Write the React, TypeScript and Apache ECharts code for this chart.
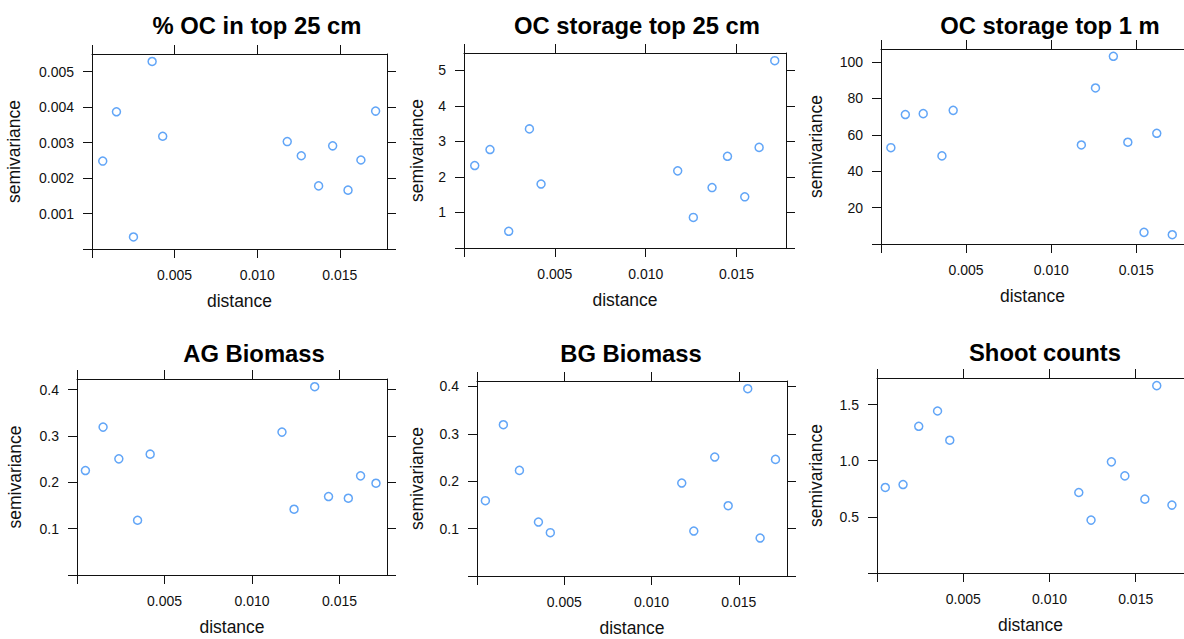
import React, { useEffect, useRef } from "react";
import * as echarts from "echarts";

// ---- Data ----
const ocPctDist = [0.00065, 0.00148, 0.00251, 0.00364, 0.00428, 0.01182, 0.01267, 0.01372, 0.01457, 0.0155, 0.01628, 0.01717];
const ocPctSemivar = [0.00248, 0.00387, 0.00034, 0.00529, 0.00318, 0.00303, 0.00263, 0.00178, 0.00291, 0.00166, 0.00251, 0.00389];

const ocStor25Dist = [0.00059, 0.00143, 0.00246, 0.0036, 0.00424, 0.01176, 0.01262, 0.01365, 0.0145, 0.01545, 0.01624, 0.0171];
const ocStor25Semivar = [2.32, 2.77, 0.47, 3.35, 1.8, 2.17, 0.86, 1.7, 2.58, 1.44, 2.83, 5.27];

const ocStor1mDist = [0.00058, 0.00143, 0.00248, 0.00358, 0.00424, 0.01177, 0.0126, 0.01365, 0.0145, 0.01545, 0.0162, 0.01711];
const ocStor1mSemivar = [52.9, 71.1, 71.6, 48.4, 73.4, 54.4, 85.7, 103.1, 55.9, 6.4, 60.8, 5.1];

const agDist = [0.00048, 0.00149, 0.00239, 0.00346, 0.00418, 0.01171, 0.0124, 0.01358, 0.01437, 0.0155, 0.0162, 0.01708];
const agSemivar = [0.2256, 0.3193, 0.2508, 0.1182, 0.2609, 0.3085, 0.142, 0.4065, 0.1694, 0.1658, 0.2141, 0.1982];

const bgDist = [0.00048, 0.00151, 0.00243, 0.00352, 0.0042, 0.01173, 0.01242, 0.01362, 0.01439, 0.01551, 0.01622, 0.0171];
const bgSemivar = [0.1589, 0.3192, 0.2228, 0.1139, 0.0914, 0.1961, 0.0949, 0.251, 0.1483, 0.3951, 0.0801, 0.246];

const shootDist = [0.00048, 0.00151, 0.00242, 0.00351, 0.00422, 0.0117, 0.01241, 0.01359, 0.01437, 0.01553, 0.01622, 0.0171];
const shootSemivar = [0.762, 0.788, 1.307, 1.443, 1.183, 0.717, 0.471, 0.99, 0.865, 0.658, 1.669, 0.605];

const titles = ["% OC in top 25 cm", "OC storage top 25 cm", "OC storage top 1 m", "AG Biomass", "BG Biomass", "Shoot counts"];

const xTicks = [0, 0.005, 0.01, 0.015];
const xTickLabels = ["", "0.005", "0.010", "0.015"];

const yTicks1 = [0, 0.001, 0.002, 0.003, 0.004, 0.005];
const yTickLabels1 = ["", "0.001", "0.002", "0.003", "0.004", "0.005"];
const yTicks2 = [0, 1, 2, 3, 4, 5];
const yTickLabels2 = ["", "1", "2", "3", "4", "5"];
const yTicks3 = [0, 20, 40, 60, 80, 100];
const yTickLabels3 = ["", "20", "40", "60", "80", "100"];
const yTicks4 = [0, 0.1, 0.2, 0.3, 0.4];
const yTickLabels4 = ["", "0.1", "0.2", "0.3", "0.4"];
const yTicks5 = [0, 0.1, 0.2, 0.3, 0.4];
const yTickLabels5 = ["", "0.1", "0.2", "0.3", "0.4"];
const yTicks6 = [0, 0.5, 1.0, 1.5];
const yTickLabels6 = ["", "0.5", "1.0", "1.5"];

const FONT = "'Liberation Sans', Arial, Helvetica, sans-serif";

export default function App() {
  const ref = useRef<HTMLDivElement>(null);

  useEffect(() => {
    if (!ref.current) return;
    const chart = echarts.init(ref.current, null, { renderer: "svg" });

    const panels = [
      { dist: ocPctDist, sv: ocPctSemivar, yTicks: yTicks1, yLabels: yTickLabels1, yInterval: 0.001, yMax: 0.0055, xMax: 0.01786,
        grid: { left: 92, top: 54, width: 295, height: 195 }, yNameGap: 69, title: { x: 252, y: 8 } },
      { dist: ocStor25Dist, sv: ocStor25Semivar, yTicks: yTicks2, yLabels: yTickLabels2, yInterval: 1, yMax: 5.486, xMax: 0.01772,
        grid: { left: 464, top: 53, width: 322, height: 195 }, yNameGap: 38, title: { x: 632, y: 8 } },
      { dist: ocStor1mDist, sv: ocStor1mSemivar, yTicks: yTicks3, yLabels: yTickLabels3, yInterval: 20, yMax: 107.1, xMax: 0.0178,
        grid: { left: 881, top: 49, width: 307, height: 195 }, yNameGap: 56, title: { x: 1045, y: 8 } },
      { dist: agDist, sv: agSemivar, yTicks: yTicks4, yLabels: yTickLabels4, yInterval: 0.1, yMax: 0.4232, xMax: 0.01771,
        grid: { left: 77, top: 379, width: 310, height: 196 }, yNameGap: 53, title: { x: 249, y: 336 } },
      { dist: bgDist, sv: bgSemivar, yTicks: yTicks5, yLabels: yTickLabels5, yInterval: 0.1, yMax: 0.4114, xMax: 0.01776,
        grid: { left: 477, top: 381, width: 310, height: 195 }, yNameGap: 51, title: { x: 626, y: 336 } },
      { dist: shootDist, sv: shootSemivar, yTicks: yTicks6, yLabels: yTickLabels6, yInterval: 0.5, yMax: 1.737, xMax: 0.0178,
        grid: { left: 877, top: 378, width: 310, height: 195 }, yNameGap: 52, title: { x: 1040, y: 335 } },
    ];

    const axisLine = { show: true, onZero: false, lineStyle: { color: "#111", width: 1 } };
    const tickStyle = { show: true, inside: false, length: 9, lineStyle: { color: "#111", width: 1 } };
    const labelStyle = { color: "#111", fontSize: 14, fontFamily: FONT };
    const nameStyle = { color: "#111", fontSize: 17.5, fontFamily: FONT };

    const grid: any[] = [];
    const xAxis: any[] = [];
    const yAxis: any[] = [];
    const series: any[] = [];
    const title: any[] = [];

    panels.forEach((p, i) => {
      grid.push({ ...p.grid, containLabel: false });
      title.push({
        text: titles[i],
        left: p.title.x,
        top: p.title.y,
        textAlign: "center",
        textStyle: { fontSize: 23.8, fontWeight: "bold", color: "#000", fontFamily: FONT },
      });
      const xFmt = (v: number) => {
        const k = xTicks.findIndex((t) => Math.abs(t - v) < 1e-9);
        return k >= 0 ? xTickLabels[k] : "";
      };
      const yFmt = (v: number) => {
        const k = p.yTicks.findIndex((t) => Math.abs(t - v) < 1e-9);
        return k >= 0 ? p.yLabels[k] : "";
      };
      // bottom x axis
      xAxis.push({
        type: "value", gridIndex: i, position: "bottom", min: 0, max: p.xMax, interval: 0.005,
        axisLine, splitLine: { show: false },
        axisTick: { ...tickStyle, customValues: xTicks },
        axisLabel: { ...labelStyle, margin: 19, formatter: xFmt, customValues: xTicks.slice(1) },
        name: "distance", nameLocation: "middle", nameGap: 43, nameTextStyle: nameStyle,
      });
      // top x axis (ticks only)
      xAxis.push({
        type: "value", gridIndex: i, position: "top", min: 0, max: p.xMax, interval: 0.005,
        axisLine, splitLine: { show: false },
        axisTick: { ...tickStyle, customValues: xTicks },
        axisLabel: { show: false },
      });
      // left y axis
      yAxis.push({
        type: "value", gridIndex: i, position: "left", min: 0, max: p.yMax, interval: p.yInterval,
        axisLine, splitLine: { show: false },
        axisTick: { ...tickStyle, customValues: p.yTicks },
        axisLabel: { ...labelStyle, margin: 18, formatter: yFmt, customValues: p.yTicks.slice(1) },
        name: "semivariance", nameLocation: "middle", nameGap: p.yNameGap, nameTextStyle: nameStyle,
      });
      // right y axis (ticks only)
      yAxis.push({
        type: "value", gridIndex: i, position: "right", min: 0, max: p.yMax, interval: p.yInterval,
        axisLine, splitLine: { show: false },
        axisTick: { ...tickStyle, customValues: p.yTicks },
        axisLabel: { show: false },
      });
      series.push({
        type: "scatter",
        xAxisIndex: i * 2,
        yAxisIndex: i * 2,
        data: p.dist.map((d, k) => [d, p.sv[k]]),
        symbol: "circle",
        symbolSize: 8,
        itemStyle: { color: "rgba(0,0,0,0)", borderColor: "#3a8ff5", borderWidth: 1.5 },
        emphasis: { disabled: true },
      });
    });

    chart.setOption({
      animation: false,
      backgroundColor: "#fff",
      title,
      grid,
      xAxis,
      yAxis,
      series,
    });

    return () => chart.dispose();
  }, []);

  return (
    <div
      ref={ref}
      style={{ position: "fixed", left: 0, top: 0, width: 1184, height: 639, overflow: "hidden", background: "#fff" }}
    />
  );
}
